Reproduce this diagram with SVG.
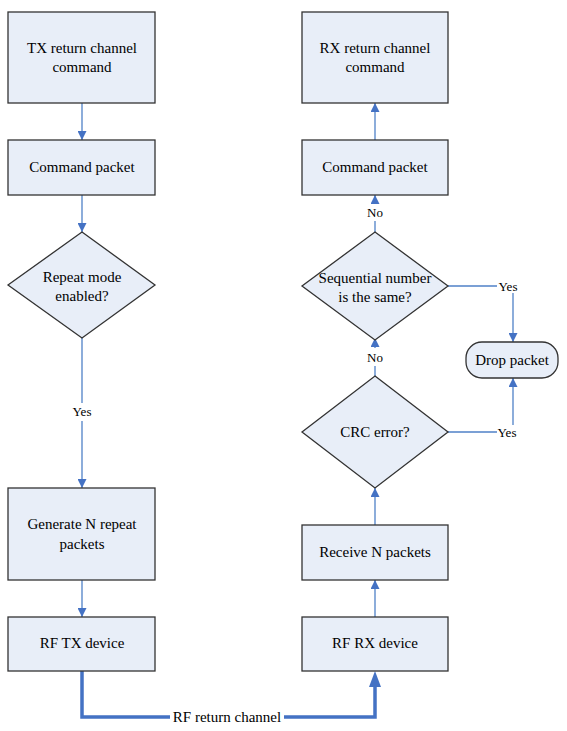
<svg xmlns="http://www.w3.org/2000/svg" width="567" height="731" viewBox="0 0 567 731" font-family="Liberation Serif, Times New Roman, DejaVu Serif, serif">
<style>
.box{fill:#e8eef8;stroke:#333;stroke-width:1.3}
.t{font-size:15px;fill:#000;text-anchor:middle}
.l{font-size:13px;fill:#000;text-anchor:middle}
.c{fill:none;stroke:#4f81c7;stroke-width:1.3}
.thick{fill:none;stroke:#4472c4;stroke-width:3.5}
</style>
<defs>
<marker id="a" viewBox="0 0 10 10" refX="10" refY="5" markerWidth="9" markerHeight="9" markerUnits="userSpaceOnUse" orient="auto">
<path d="M0,0 L10,5 L0,10 z" fill="#4472c4"/>
</marker>
</defs>
<rect width="567" height="731" fill="#fff"/>
<g id="connectors">
<line class="c" x1="82" y1="103" x2="82" y2="140" marker-end="url(#a)"/>
<line class="c" x1="82" y1="195" x2="82" y2="232" marker-end="url(#a)"/>
<line class="c" x1="82" y1="338" x2="82" y2="403"/>
<line class="c" x1="82" y1="421" x2="82" y2="488" marker-end="url(#a)"/>
<line class="c" x1="82" y1="580" x2="82" y2="617" marker-end="url(#a)"/>
<line class="c" x1="375" y1="140" x2="375" y2="103" marker-end="url(#a)"/>
<line class="c" x1="375" y1="204" x2="375" y2="195" marker-end="url(#a)"/>
<line class="c" x1="375" y1="232" x2="375" y2="221"/>
<line class="c" x1="375" y1="348" x2="375" y2="338" marker-end="url(#a)"/>
<line class="c" x1="375" y1="376" x2="375" y2="366"/>
<line class="c" x1="375" y1="525" x2="375" y2="488" marker-end="url(#a)"/>
<line class="c" x1="375" y1="617" x2="375" y2="580" marker-end="url(#a)"/>
<polyline class="c" points="448,286 497,286"/>
<line class="c" x1="513" y1="293" x2="513" y2="342" marker-end="url(#a)"/>
<polyline class="c" points="448,432 497,432"/>
<line class="c" x1="513" y1="425" x2="513" y2="378" marker-end="url(#a)"/>
<polyline class="thick" points="82,671 82,717 170,717"/>
<polyline class="thick" points="284,717 375,717 375,686"/>
<path d="M369,687 L375,671 L381,687 z" fill="#4472c4"/>
<text class="l" x="82" y="416">Yes</text>
<text class="l" x="375" y="217">No</text>
<text class="l" x="375" y="362">No</text>
<text class="l" x="508" y="291">Yes</text>
<text class="l" x="507" y="437">Yes</text>
<text class="t" x="227" y="722">RF return channel</text>
</g>
<g id="tx_cmd"><rect class="box" x="8" y="12" width="147" height="91"/><text class="t" x="82" y="53">TX return channel</text><text class="t" x="82" y="72">command</text></g>
<g id="tx_packet"><rect class="box" x="8" y="140" width="147" height="55"/><text class="t" x="82" y="172">Command packet</text></g>
<g id="repeat"><polygon class="box" points="82,232 155,285 82,338 8,285"/><text class="t" x="82" y="282">Repeat mode</text><text class="t" x="82" y="301">enabled?</text></g>
<g id="generate"><rect class="box" x="8" y="488" width="147" height="92"/><text class="t" x="82" y="529">Generate N repeat</text><text class="t" x="82" y="549">packets</text></g>
<g id="rf_tx"><rect class="box" x="8" y="617" width="147" height="54"/><text class="t" x="82" y="648">RF TX device</text></g>
<g id="rx_cmd"><rect class="box" x="302" y="12" width="146" height="91"/><text class="t" x="375" y="53">RX return channel</text><text class="t" x="375" y="72">command</text></g>
<g id="rx_packet"><rect class="box" x="302" y="140" width="146" height="55"/><text class="t" x="375" y="172">Command packet</text></g>
<g id="seq"><polygon class="box" points="375,232 448,286 375,340 302,286"/><text class="t" x="375" y="283">Sequential number</text><text class="t" x="375" y="302">is the same?</text></g>
<g id="crc"><polygon class="box" points="375,376 448,432 375,488 302,432"/><text class="t" x="375" y="437">CRC error?</text></g>
<g id="receive"><rect class="box" x="302" y="525" width="146" height="55"/><text class="t" x="375" y="557">Receive N packets</text></g>
<g id="rf_rx"><rect class="box" x="302" y="617" width="146" height="54"/><text class="t" x="375" y="648">RF RX device</text></g>
<g id="drop"><rect class="box" x="466" y="342" width="92" height="36" rx="16" ry="16"/><text class="t" x="512" y="365">Drop packet</text></g>
</svg>
